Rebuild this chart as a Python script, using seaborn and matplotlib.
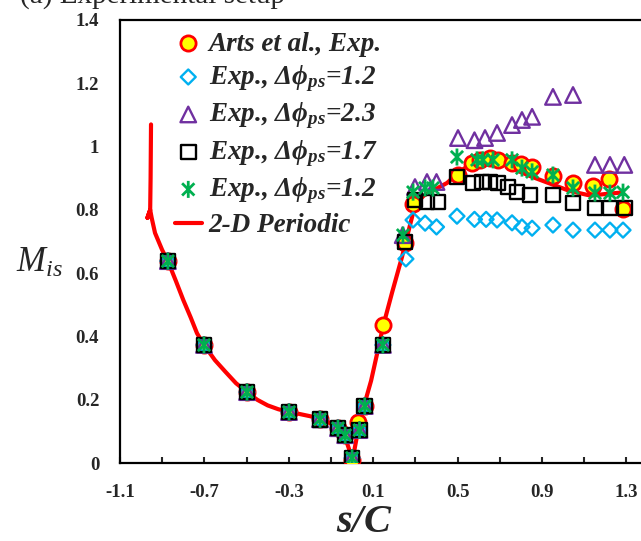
import numpy as np
import pandas as pd
import matplotlib
matplotlib.use("Agg")
import matplotlib.pyplot as plt
from matplotlib.path import Path
from matplotlib.font_manager import FontProperties
import seaborn as sns

# %% data (s/C, M_is)
# leading edge region: every experimental run sits on the same spots here
s_lead = [-0.873, -0.702, -0.498, -0.299, -0.152, -0.067, -0.033, 0.0, 0.035, 0.06, 0.146]
m_lead = [0.638, 0.373, 0.224, 0.161, 0.138, 0.11, 0.088, 0.016, 0.104, 0.18, 0.373]

s_arts = [-0.873, -0.702, -0.498, -0.299, -0.152, -0.067, -0.033, 0.0, 0.03, 0.06, 0.146,
          0.25, 0.29, 0.50, 0.568, 0.606, 0.653, 0.69, 0.758, 0.80, 0.853, 0.952,
          1.045, 1.142, 1.218, 1.282]
m_arts = [0.638, 0.373, 0.224, 0.161, 0.14, 0.11, 0.09, 0.01, 0.13, 0.18, 0.436,
          0.695, 0.82, 0.91, 0.948, 0.958, 0.964, 0.958, 0.948, 0.945, 0.936, 0.908,
          0.885, 0.876, 0.897, 0.803]

s_exp12a = [0.255, 0.289, 0.346, 0.40, 0.497, 0.58, 0.635, 0.687, 0.758, 0.805, 0.853,
            0.952, 1.047, 1.151, 1.222, 1.284]
m_exp12a = [0.645, 0.768, 0.758, 0.746, 0.78, 0.77, 0.77, 0.768, 0.759, 0.746, 0.742,
            0.752, 0.736, 0.736, 0.736, 0.736]

s_exp23 = [0.24, 0.298, 0.355, 0.40, 0.502, 0.58, 0.63, 0.687, 0.758, 0.805, 0.853,
           0.952, 1.047, 1.151, 1.222, 1.29]
m_exp23 = [0.72, 0.872, 0.888, 0.888, 1.027, 1.02, 1.027, 1.043, 1.068, 1.084, 1.094,
           1.157, 1.163, 0.942, 0.942, 0.942]

s_exp17 = [0.25, 0.298, 0.355, 0.407, 0.497, 0.573, 0.616, 0.654, 0.692, 0.739, 0.782,
           0.843, 0.952, 1.047, 1.151, 1.222, 1.293]
m_exp17 = [0.698, 0.831, 0.825, 0.825, 0.904, 0.885, 0.888, 0.888, 0.885, 0.872, 0.857,
           0.847, 0.847, 0.822, 0.806, 0.806, 0.806]

s_exp12b = [0.241, 0.289, 0.346, 0.383, 0.497, 0.592, 0.62, 0.668, 0.758, 0.805, 0.853,
            0.952, 1.047, 1.151, 1.222, 1.284]
m_exp12b = [0.72, 0.856, 0.869, 0.869, 0.967, 0.958, 0.958, 0.958, 0.958, 0.932, 0.92,
            0.91, 0.869, 0.853, 0.853, 0.856]

# 2-D periodic CFD line (drawn in this order, it starts with the little spike)
s_cfd = [-0.953, -0.955, -0.957, -0.970, -0.957, -0.950, -0.934, -0.90, -0.873, -0.835,
         -0.80, -0.765, -0.735, -0.702, -0.65, -0.60, -0.55, -0.498, -0.45, -0.40, -0.35,
         -0.299, -0.25, -0.20, -0.152, -0.11, -0.067, -0.035, -0.015, 0.0, 0.012, 0.03,
         0.056, 0.09, 0.12, 0.146, 0.19, 0.236, 0.27, 0.289, 0.31, 0.34, 0.38, 0.45,
         0.50, 0.55, 0.60, 0.65, 0.70, 0.78, 0.85, 0.95, 1.03, 1.13, 1.20, 1.28]
m_cfd = [1.07, 0.90, 0.80, 0.775, 0.80, 0.775, 0.727, 0.673, 0.638, 0.575,
         0.515, 0.46, 0.41, 0.373, 0.325, 0.288, 0.252, 0.224, 0.2, 0.182, 0.17,
         0.161, 0.155, 0.148, 0.14, 0.128, 0.11, 0.085, 0.045, 0.008, 0.045, 0.11,
         0.18, 0.26, 0.35, 0.43, 0.54, 0.65, 0.74, 0.79, 0.825, 0.845, 0.86, 0.885,
         0.915, 0.94, 0.955, 0.962, 0.955, 0.925, 0.905, 0.88, 0.86, 0.845, 0.85, 0.855]

x_ticks = [-1.1, -0.7, -0.3, 0.1, 0.5, 0.9, 1.3]
x_minor = [-0.9, -0.5, -0.1, 0.3, 0.7, 1.1]
y_ticks = [0, 0.2, 0.4, 0.6, 0.8, 1.0, 1.2, 1.4]
y_labels = ["0", "0.2", "0.4", "0.6", "0.8", "1", "1.2", "1.4"]

# %% style
sns.set_theme(style="white")
plt.rcParams.update({
    "font.family": ["Liberation Serif", "DejaVu Serif"],
    "mathtext.fontset": "custom",
    "mathtext.rm": "Liberation Serif:italic",
    "mathtext.it": "Liberation Serif:italic",
    "mathtext.bf": "Liberation Serif:bold:italic",
    "axes.edgecolor": "black",
    "axes.linewidth": 1.6,
})

# excel style asterisk: x with a vertical bar
star = Path([(0, -1), (0, 1), (-0.72, -0.72), (0.72, 0.72), (-0.72, 0.72), (0.72, -0.72)],
            [Path.MOVETO, Path.LINETO, Path.MOVETO, Path.LINETO, Path.MOVETO, Path.LINETO])

fig = plt.figure(figsize=(6.41, 5.41), dpi=100)
ax = fig.add_axes([120 / 641, 78 / 541, 521 / 641, 443 / 541])

sns.lineplot(x=s_cfd, y=m_cfd, sort=False, estimator=None, color="#FF0000", lw=3,
             label="2-D Periodic", ax=ax, zorder=2)
sns.scatterplot(x=s_arts, y=m_arts, marker="o", s=120, fc="#FFFF00", ec="#FF0000",
                linewidth=2, label="Arts et al., Exp.", ax=ax, zorder=3)
sns.scatterplot(x=s_lead + s_exp12a, y=m_lead + m_exp12a, marker="D", s=58, fc="none",
                ec="#00B0F0", linewidth=1.7, label=r"Exp., $\mathbf{\Delta\phi_{ps}}$=1.2",
                ax=ax, zorder=4)
sns.scatterplot(x=s_lead + s_exp23, y=m_lead + m_exp23, marker="^", s=125, fc="none",
                ec="#7030A0", linewidth=1.7, label=r"Exp., $\mathbf{\Delta\phi_{ps}}$=2.3",
                ax=ax, zorder=5)
sns.scatterplot(x=s_lead + s_exp17, y=m_lead + m_exp17, marker="s", s=110, fc="none",
                ec="black", linewidth=1.7, label=r"Exp., $\mathbf{\Delta\phi_{ps}}$=1.7",
                ax=ax, zorder=6)
sns.scatterplot(x=s_lead + s_exp12b, y=m_lead + m_exp12b, marker=star, s=150, fc="none",
                ec="#00B050", linewidth=2.0, label=r"Exp., $\mathbf{\Delta\phi_{ps}}$=1.2",
                ax=ax, zorder=7)

ax.set_xlim(-1.1, -1.1 + 521 / 211)
ax.set_ylim(0, 1.4)
ax.set_xticks(x_ticks, [f"{t:.1f}" for t in x_ticks])
ax.set_xticks(x_minor, minor=True)
ax.set_yticks(y_ticks, y_labels)
ax.tick_params(axis="x", which="both", direction="in", length=4, width=1.5, pad=15,
               labelsize=13.5, top=False, bottom=True)
ax.tick_params(axis="y", length=0, pad=15, labelsize=13.5)
for lab in ax.get_xticklabels() + ax.get_yticklabels():
    lab.set_fontweight("bold")
ax.spines["right"].set_visible(False)

ax.set_xlabel(r"$\mathbf{s/C}$", fontsize=29, va="center")
ax.xaxis.set_label_coords((364 - 120) / 521, -(523 - 463) / 443)
ax.set_ylabel(r"$M_{is}$", fontsize=25, rotation=0, va="center", ha="center")
ax.yaxis.set_label_coords(-0.154, 0.45)

h, l = ax.get_legend_handles_labels()
order = [1, 2, 3, 4, 5, 0]
ax.legend([h[i] for i in order], [l[i] for i in order], loc="upper left",
          bbox_to_anchor=(0.105, 0.974), frameon=False,
          prop=FontProperties(family="Liberation Serif", weight="bold", style="italic", size=19.5),
          handlelength=1.0, handletextpad=0.25, labelspacing=0.25, borderpad=0,
          borderaxespad=0)

fig.text(20 / 641, 1 - 3 / 541, "(a) Experimental setup", fontsize=21,
         family="Liberation Serif", fontweight="normal", va="baseline")

fig.savefig("out.png", dpi=100)
